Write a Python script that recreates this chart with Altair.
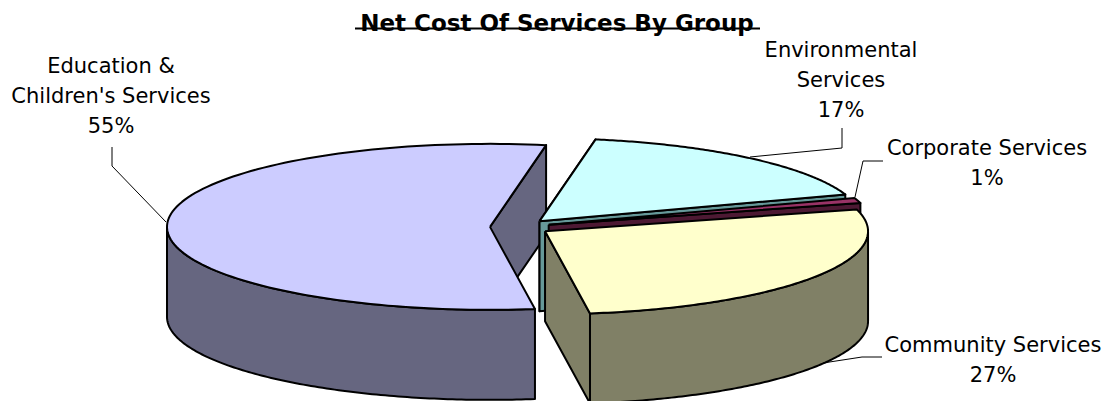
import altair as alt
import pandas as pd

# ---- data (clockwise from the first slice) ----
categories = ["Environmental Services", "Corporate Services",
              "Community Services", "Education & Children's Services"]
values = [17, 1, 27, 55]
label_text = ["Environmental|Services", "Corporate Services",
              "Community Services", "Education &|Children's Services"]
TITLE = "Net Cost Of Services By Group"

# ---- styles ----
FONT = "DejaVu Sans"
top_colors = {
    "Environmental Services": "#CCFFFF",
    "Corporate Services": "#993366",
    "Community Services": "#FFFFCC",
    "Education & Children's Services": "#CCCCFF",
}
side_colors = {
    "Environmental Services": "#669999",
    "Corporate Services": "#4D1933",
    "Community Services": "#808066",
    "Education & Children's Services": "#666680",
}

# ---- 3-D pie geometry (pie radius = 1 unit) ----
W, H = 1112, 401
PXU = 323.0          # pixels per pie radius
CX, CY = 520.0, 227.0
TILT = 83.0 / 323.0  # vertical squash of the pie top
DEPTH = 90.0 / 323.0 # thickness of the pie
EXPLODE = 30.0 / 323.0
START = 80           # angle of first slice edge (deg, counter-clockwise from east)
N = 120

df = pd.DataFrame({"group": categories, "value": values,
                   "k": list(range(len(values))), "label": label_text})

xscale = alt.Scale(domain=[-CX / PXU, (W - CX) / PXU], nice=False, zero=False)
yscale = alt.Scale(domain=[-(H - CY) / PXU, CY / PXU], nice=False, zero=False)


def base(group):
    return (
        alt.Chart(df)
        .transform_joinaggregate(total="sum(value)")
        .transform_window(cum="sum(value)", sort=[alt.SortField("k", order="ascending")],
                          frame=[None, 0])
        .transform_calculate(a0=f"{START} - 360*datum.cum/datum.total",
                             a1=f"{START} - 360*(datum.cum - datum.value)/datum.total")
        .transform_calculate(mid="(datum.a0 + datum.a1)/2")
        .transform_calculate(ox=f"{EXPLODE}*cos(datum.mid*PI/180)",
                             oy=f"{EXPLODE}*sin(datum.mid*PI/180)")
        .transform_filter(alt.FieldEqualPredicate(field="group", equal=group))
    )


def poly(chart, color):
    return chart.mark_line(fill=color, stroke="black", strokeWidth=2,
                           strokeJoin="round", interpolate="linear").encode(
        x=alt.X("px:Q", scale=xscale, axis=None),
        y=alt.Y("py:Q", scale=yscale, axis=None),
        order=alt.Order("i:Q"),
    )


def top_face(group):
    c = (
        base(group)
        .transform_calculate(i=f"sequence(0, {N + 3})")
        .transform_flatten(["i"])
        .transform_calculate(apex=f"datum.i == 0 || datum.i == {N + 2}")
        .transform_calculate(ang=f"(datum.a0 + (datum.a1 - datum.a0)*(datum.i - 1)/{N})*PI/180")
        .transform_calculate(
            px="datum.apex ? datum.ox : datum.ox + cos(datum.ang)",
            py=f"(datum.apex ? datum.oy : datum.oy + sin(datum.ang))*{TILT}")
    )
    return poly(c, top_colors[group])


def outer_wall(group):
    c = (
        base(group)
        .transform_calculate(
            fa0="datum.a0 >= 0 ? max(datum.a0, 180) : max(datum.a0, -180)",
            fa1="datum.a0 >= 0 ? min(datum.a1, 360) : min(datum.a1, 0)")
        .transform_filter("datum.fa1 > datum.fa0")
        .transform_calculate(i=f"sequence(0, {2 * N + 3})")
        .transform_flatten(["i"])
        .transform_calculate(
            t=f"datum.i <= {N} ? datum.i/{N} : (datum.i <= {2 * N + 1} ? ({2 * N + 1} - datum.i)/{N} : 0)",
            z=f"(datum.i > {N} && datum.i <= {2 * N + 1}) ? {-DEPTH} : 0")
        .transform_calculate(ang="(datum.fa0 + (datum.fa1 - datum.fa0)*datum.t)*PI/180")
        .transform_calculate(px="datum.ox + cos(datum.ang)",
                             py=f"(datum.oy + sin(datum.ang))*{TILT} + datum.z")
    )
    return poly(c, side_colors[group])


def cut_wall(group, which):
    c = (
        base(group)
        .transform_calculate(i="sequence(0, 5)")
        .transform_flatten(["i"])
        .transform_calculate(edge="datum.i == 1 || datum.i == 2",
                             bot="datum.i == 2 || datum.i == 3",
                             w=f"datum.{which}*PI/180")
        .transform_calculate(
            px="datum.ox + (datum.edge ? cos(datum.w) : 0)",
            py=f"(datum.oy + (datum.edge ? sin(datum.w) : 0))*{TILT} - (datum.bot ? {DEPTH} : 0)")
    )
    return poly(c, side_colors[group])


ENV, CORP, COMM, EDU = categories

layers = [
    cut_wall(EDU, "a0"),
    cut_wall(ENV, "a1"),
    cut_wall(ENV, "a0"),
    top_face(ENV),
    cut_wall(CORP, "a0"),
    top_face(CORP),
    outer_wall(EDU),
    top_face(EDU),
    cut_wall(COMM, "a0"),
    outer_wall(COMM),
    top_face(COMM),
]

# ---- leader lines ----
one = pd.DataFrame({"a": [0]})
leaders = [
    (112, 147, 112, 166), (112, 166, 166, 222),
    (842, 128, 842, 148), (842, 148, 750, 157),
    (883, 161, 863, 161), (863, 161, 855, 197),
    (882, 357, 862, 357), (862, 357, 823, 363),
]
for x1, y1, x2, y2 in leaders:
    layers.append(alt.Chart(one).mark_rule(color="black", strokeWidth=1).encode(
        x=alt.value(x1), y=alt.value(y1), x2=alt.value(x2), y2=alt.value(y2)))

# ---- data labels ----
label_pos = {ENV: (841, 57), CORP: (987, 155), COMM: (993, 352), EDU: (111, 73)}
for g, (lx, ly) in label_pos.items():
    layers.append(
        alt.Chart(df)
        .transform_joinaggregate(total="sum(value)")
        .transform_filter(alt.FieldEqualPredicate(field="group", equal=g))
        .transform_calculate(txt="datum.label + '|' + format(datum.value/datum.total, '.0%')")
        .mark_text(font=FONT, fontSize=21, align="center", baseline="alphabetic",
                   lineBreak="|", lineHeight=30, color="black")
        .encode(x=alt.value(lx), y=alt.value(ly), text="txt:N")
    )

# ---- title with its underline ----
layers.append(
    alt.Chart(pd.DataFrame({"t": [TITLE]}))
    .mark_text(font=FONT, fontSize=23, fontWeight="bold", align="center",
               baseline="alphabetic", color="black")
    .encode(x=alt.value(557), y=alt.value(31), text="t:N")
)
layers.append(alt.Chart(one).mark_rule(color="black", strokeWidth=2).encode(
    x=alt.value(355), x2=alt.value(760), y=alt.value(28.5)))

chart = (
    alt.layer(*layers)
    .properties(width=W, height=H, padding=0,
                autosize=alt.AutoSizeParams(type="none"))
    .configure_view(stroke=None)
)

chart.save("out.html", embed_options={"renderer": "svg", "actions": False})
